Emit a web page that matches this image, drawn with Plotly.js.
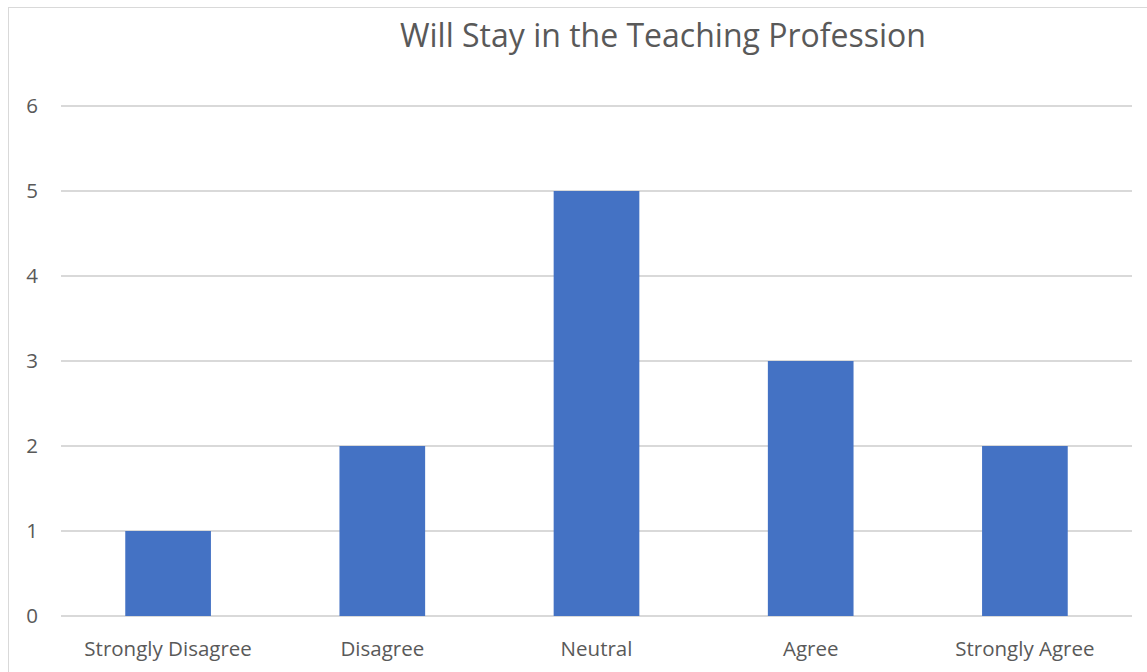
<!DOCTYPE html>
<html>
<head>
<meta charset="utf-8">
<script src="https://cdn.plot.ly/plotly-3.0.1.min.js"></script>
<style>
  html, body { margin: 0; padding: 0; background: #fff; }
  #wrap { position: relative; width: 1147px; height: 672px; overflow: hidden; }
  #chart { position: absolute; left: 0; top: 0; width: 1147px; height: 672px; }
  #frame { position: absolute; left: 8px; top: 7px; width: 1160px; height: 700px;
           border: 1.5px solid #d9d9d9; pointer-events: none; box-sizing: border-box; }
</style>
</head>
<body>
<div id="wrap">
  <div id="chart"></div>
  <div id="frame"></div>
</div>
<script>
const categories = ["Strongly Disagree", "Disagree", "Neutral", "Agree", "Strongly Agree"];
const counts = [1, 2, 5, 3, 2];
const yTicks = [0, 1, 2, 3, 4, 5, 6];
const chartTitle = "Will Stay in the Teaching Profession";

const FONT = "Open Sans, Noto Sans, sans-serif";
const GREY = "#595959";

Plotly.newPlot("chart", [{
  type: "bar",
  x: categories,
  y: counts,
  marker: { color: "#4472c4" },
  hoverinfo: "x+y"
}], {
  width: 1147,
  height: 672,
  margin: { l: 61, r: 15, t: 105, b: 56, pad: 0 },
  paper_bgcolor: "#ffffff",
  plot_bgcolor: "#ffffff",
  bargap: 0.6,
  showlegend: false,
  title: {
    text: chartTitle,
    font: { family: FONT, size: 32, color: GREY },
    x: 0.578, xanchor: "center",
    y: 1 - 36 / 672, yanchor: "middle", yref: "container"
  },
  xaxis: {
    type: "category",
    showgrid: false,
    showline: false,
    zeroline: false,
    ticks: "",
    ticklabelstandoff: 18,
    tickfont: { family: FONT, size: 20.5, color: GREY }
  },
  yaxis: {
    range: [0, 6.012],
    tickvals: yTicks,
    ticktext: yTicks.map(String),
    showgrid: true,
    gridcolor: "#d9d9d9",
    gridwidth: 1.5,
    zeroline: true,
    zerolinecolor: "#d9d9d9",
    zerolinewidth: 1.5,
    showline: false,
    ticks: "",
    ticklabelstandoff: 22,
    tickfont: { family: FONT, size: 20.5, color: GREY },
    fixedrange: true
  }
}, { displayModeBar: false });
</script>
</body>
</html>
